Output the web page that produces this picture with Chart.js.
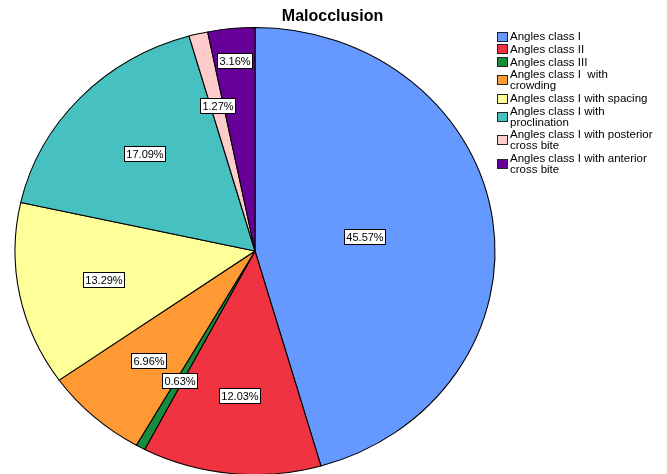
<!DOCTYPE html>
<html>
<head>
<meta charset="utf-8">
<script src="https://cdn.jsdelivr.net/npm/chart.js@4.4.1/dist/chart.umd.min.js"></script>
<style>
  body { margin: 0; background: #fff; }
  canvas { display: block; }
</style>
</head>
<body>
<canvas id="pie" width="667" height="474"></canvas>
<script>
// chart data
const title = 'Malocclusion';
const categories = [
  'Angles class I',
  'Angles class II',
  'Angles class III',
  ['Angles class I  with', 'crowding'],
  'Angles class I with spacing',
  ['Angles class I with', 'proclination'],
  ['Angles class I with posterior', 'cross bite'],
  ['Angles class I with anterior', 'cross bite']
];
const percents = [45.57, 12.03, 0.63, 6.96, 13.29, 17.09, 1.27, 3.16];
const colors = ['#6699ff', '#ef3340', '#168c3c', '#ff9933', '#ffff99', '#47c0c0', '#ffcccc', '#660099'];

// where each % box sits, as a fraction of the radius
const labelRadius = [0.46, 0.65, 0.66, 0.66, 0.645, 0.635, 0.67, 0.855];

const FONT = "'Liberation Sans', Arial, sans-serif";
const RX = 240; // horizontal radius, pie is a bit squashed vertically

const stretchPlugin = {
  id: 'stretch',
  beforeDatasetsDraw(chart) {
    const arc = chart.getDatasetMeta(0).data[0];
    const ctx = chart.ctx;
    ctx.save();
    ctx.translate(arc.x, arc.y);
    ctx.scale(RX / arc.outerRadius, 1);
    ctx.translate(-arc.x, -arc.y);
  },
  afterDatasetsDraw(chart) {
    chart.ctx.restore();
  }
};

const labelPlugin = {
  id: 'pctLabels',
  afterDraw(chart) {
    const ctx = chart.ctx;
    const arcs = chart.getDatasetMeta(0).data;
    ctx.save();
    ctx.font = '11px ' + FONT;
    ctx.textAlign = 'center';
    ctx.textBaseline = 'middle';
    arcs.forEach((el, i) => {
      const mid = (el.startAngle + el.endAngle) / 2;
      const sx = RX / el.outerRadius;
      const r = el.outerRadius * labelRadius[i];
      const x = el.x + Math.cos(mid) * r * sx;
      const y = el.y + Math.sin(mid) * r;
      const txt = percents[i].toFixed(2) + '%';
      const w = Math.round(ctx.measureText(txt).width + 4);
      const h = 15;
      const bx = Math.round(x - w / 2) + 0.5;
      const by = Math.round(y - h / 2) + 0.5;
      ctx.fillStyle = '#fff';
      ctx.fillRect(bx, by, w, h);
      ctx.strokeStyle = '#000';
      ctx.lineWidth = 1;
      ctx.strokeRect(bx, by, w, h);
      ctx.fillStyle = '#000';
      ctx.fillText(txt, bx + w / 2, by + h / 2 + 0.5);
    });

    // title
    ctx.font = 'bold 16px ' + FONT;
    ctx.textBaseline = 'alphabetic';
    ctx.fillText(title, 332.5, 21);

    // legend with wrapped entries
    ctx.font = '11.5px ' + FONT;
    ctx.textAlign = 'left';
    let y = 40;
    categories.forEach((lab, i) => {
      const lines = Array.isArray(lab) ? lab : [lab];
      lines.forEach((ln, j) => {
        ctx.fillStyle = '#000';
        ctx.fillText(ln, 510, y + j * 10.8);
      });
      const c = y - 4 + (lines.length - 1) * 10.8 / 2;
      const by = Math.round(c - 4.5) + 0.5;
      ctx.fillStyle = colors[i];
      ctx.fillRect(497.5, by, 10, 9);
      ctx.strokeStyle = '#222';
      ctx.strokeRect(497.5, by, 10, 9);
      y += (lines.length - 1) * 10.8 + 12.8;
    });
    ctx.restore();
  }
};

new Chart(document.getElementById('pie'), {
  type: 'pie',
  data: {
    labels: categories,
    datasets: [{
      data: percents,
      backgroundColor: colors,
      borderColor: '#000',
      borderWidth: 1,
      clip: false
    }]
  },
  options: {
    responsive: false,
    animation: false,
    radius: 223.5,
    layout: { padding: { left: 15, right: 172, top: 28, bottom: 0 } },
    plugins: {
      legend: { display: false },
      tooltip: { enabled: false },
      title: { display: false }
    },
    events: []
  },
  plugins: [stretchPlugin, labelPlugin]
});
</script>
</body>
</html>
